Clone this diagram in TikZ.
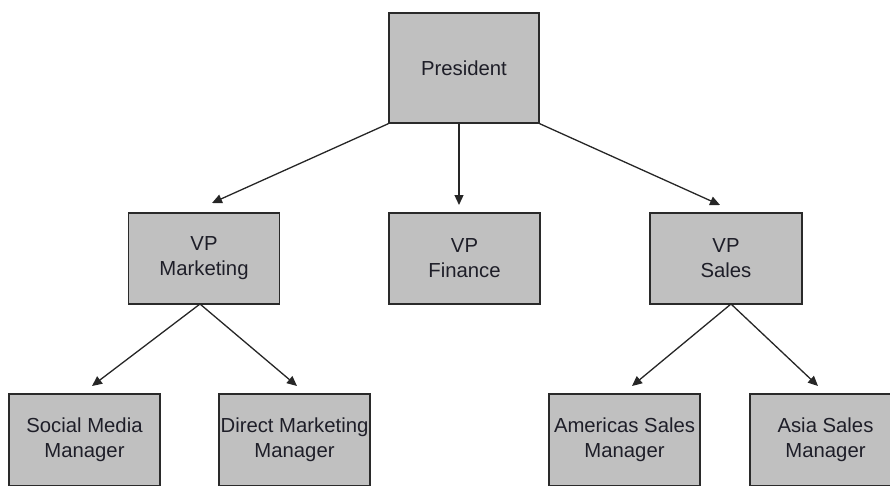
\documentclass[tikz,border=0pt]{standalone}
\usepackage{fontspec}
\setmainfont{Liberation Sans}
\usetikzlibrary{arrows.meta}
\definecolor{boxfill}{HTML}{C0C0C0}
\definecolor{boxline}{HTML}{2A2A2A}
\definecolor{txt}{HTML}{1E1E28}
\tikzset{
  orgbox/.style={draw=boxline, line width=1.4pt, fill=boxfill, minimum width=151pt,
    minimum height=91pt, align=center, inner sep=0pt, text=txt,
    font=\fontsize{20.3}{25}\selectfont},
  link/.style={draw=black!85, line width=1.3pt, -{Triangle[length=10pt,width=9pt]}}
}
\begin{document}
\begin{tikzpicture}[x=1pt,y=-1pt]
\useasboundingbox (0,0) rectangle (890,485);
\clip (0,0) rectangle (890,485);
\node[orgbox, minimum width=150pt, minimum height=110pt] (pres) at (464,68) {President};
\node[orgbox] (vpm) at (204,258.5) {VP\\Marketing};
\node[orgbox] (vpf) at (464.5,258.5) {VP\\Finance};
\node[orgbox, minimum width=152pt] (vps) at (726,258.5) {VP\\Sales};
\node[orgbox, minimum height=92pt] (smm) at (84.5,440) {Social Media\\Manager};
\node[orgbox, minimum height=92pt] (dmm) at (294.5,440) {Direct Marketing\\Manager};
\node[orgbox, minimum height=92pt] (ams) at (624.5,440) {Americas Sales\\Manager};
\node[orgbox, minimum height=92pt] (ass) at (825.5,440) {Asia Sales\\Manager};
\coordinate (tm) at (212,203);
\coordinate (fs) at (459,123.5);
\coordinate (tf) at (459,205);
\coordinate (ts) at (720,205);
\coordinate (ms) at (200,304);
\coordinate (t1) at (92,386);
\coordinate (t2) at (297,386);
\coordinate (ss) at (731,304);
\coordinate (t3) at (632,386);
\coordinate (t4) at (818,386);
\draw[link] (pres.south west) -- (tm);
\draw[link] (fs) -- (tf);
\draw[link] (pres.south east) -- (ts);
\draw[link] (ms) -- (t1);
\draw[link] (ms) -- (t2);
\draw[link] (ss) -- (t3);
\draw[link] (ss) -- (t4);
\end{tikzpicture}
\end{document}
